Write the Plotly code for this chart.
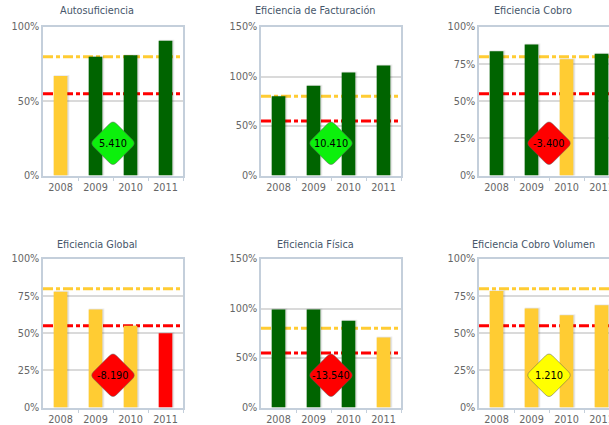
import plotly.graph_objects as go

years = ["2008", "2009", "2010", "2011"]
titles = ["Autosuficiencia", "Eficiencia de Facturación", "Eficiencia Cobro",
          "Eficiencia Global", "Eficiencia Física", "Eficiencia Cobro Volumen"]
autosuficiencia = [67, 80, 81, 90.7]
facturacion = [80, 90.7, 104, 111]
cobro = [83.7, 88.2, 78.3, 82]
global_ = [78, 66, 55, 50]
fisica = [99, 99, 87.6, 70.8]
cobro_volumen = [78.4, 66.7, 62.2, 68.8]
series = [autosuficiencia, facturacion, cobro, global_, fisica, cobro_volumen]
gauge_labels = ["5.410", "10.410", "-3.400", "-8.190", "-13.540", "1.210"]
gauge_colors = ["#0CF00C", "#0CF00C", "#FF0000", "#FF0000", "#FF0000", "#FFFF00"]
axis_max = [100, 150, 100, 100, 150, 100]
axis_ticks = [[0, 50, 100], [0, 50, 100, 150], [0, 25, 50, 75, 100],
              [0, 25, 50, 75, 100], [0, 50, 100, 150], [0, 25, 50, 75, 100]]
target_high = 80
target_low = 55

W, H = 609, 425
lefts = [43, 261, 479]
tops = [27, 259]
plot_w, plot_h = 140, 148.5
cat_w = plot_w / 4
title_centers = [97, 315, 533]
title_ys = [11, 244]

AXIS = "#C4CFDB"
GRID = "#DADADA"
LABEL = "#666666"
TITLE = "#46566A"
FONT = "DejaVu Sans"
DIAMOND = ("M -3.5,-19.5 Q 0,-23 3.5,-19.5 L 19.5,-3.5 Q 23,0 19.5,3.5 L 3.5,19.5 "
           "Q 0,23 -3.5,19.5 L -19.5,3.5 Q -23,0 -19.5,-3.5 Z")


def bar_color(v):
    if v >= target_high:
        return "#006400"
    if v >= target_low:
        return "#FFCC33"
    return "#FF0000"


fig = go.Figure()
shapes, annotations = [], []
for i, vals in enumerate(series):
    r, c = divmod(i, 3)
    suffix = "" if i == 0 else str(i + 1)
    xa, ya = "x" + suffix, "y" + suffix
    left, top = lefts[c], tops[r]
    right = min(left + plot_w, W)
    xmax = -0.5 + (right - left) / cat_w
    pos = list(range(len(years)))
    fig.add_trace(go.Bar(x=[p + 0.03 for p in pos], y=vals, xaxis=xa, yaxis=ya, width=0.39,
                         marker=dict(color="rgba(0,0,0,0.10)",
                                     line=dict(color="rgba(0,0,0,0.07)", width=2)),
                         showlegend=False, hoverinfo="skip"))
    fig.add_trace(go.Bar(x=pos, y=vals, xaxis=xa, yaxis=ya, width=0.39,
                         marker=dict(color=[bar_color(v) for v in vals], line=dict(width=0)),
                         showlegend=False))
    axis_common = dict(showline=True, linecolor=AXIS, linewidth=1.5, mirror=True, zeroline=False,
                       automargin=False, tickfont=dict(family=FONT, size=9.7, color=LABEL))
    fig.update_layout({
        ("xaxis" + suffix): dict(
            domain=[left / W, right / W], range=[-0.5, xmax], anchor=ya, showgrid=False,
            tickmode="array", tickvals=pos, ticktext=years, ticks="", ticklabelstandoff=2,
            ticklabeloverflow="allow",
            minor=dict(tickmode="array", tickvals=[p + 0.5 for p in pos], ticks="outside",
                       ticklen=4, tickcolor=AXIS, tickwidth=1, showgrid=False),
            **axis_common),
        ("yaxis" + suffix): dict(
            domain=[1 - (top + plot_h) / H, 1 - top / H], range=[0, axis_max[i]], anchor=xa,
            tickmode="array", tickvals=axis_ticks[i],
            ticktext=[f"{t}%" for t in axis_ticks[i]], ticks="",
            showgrid=True, gridcolor=GRID, gridwidth=1.5, **axis_common),
    })
    for level, col in ((target_high, "#FFCC33"), (target_low, "#FF0000")):
        shapes.append(dict(type="line", layer="below", xref=xa + " domain", yref=ya,
                           x0=0, x1=1, y0=level, y1=level,
                           line=dict(color=col, width=3, dash="10px,3px,4px,3px")))
    gauge_y = axis_max[i] * 0.217
    shapes.append(dict(type="path", layer="above", xref=xa, yref=ya, xsizemode="pixel",
                       ysizemode="pixel", xanchor=1.5, yanchor=gauge_y, path=DIAMOND,
                       fillcolor=gauge_colors[i], line=dict(color="rgba(90,90,90,0.5)", width=1)))
    annotations.append(dict(xref=xa, yref=ya, x=1.5, y=gauge_y, text=gauge_labels[i], showarrow=False,
                            font=dict(family=FONT, size=9.8, color="#000000")))
    annotations.append(dict(xref="paper", yref="paper", x=title_centers[c] / W,
                            y=1 - title_ys[r] / H, text=titles[i], showarrow=False,
                            xanchor="center", yanchor="middle",
                            font=dict(family=FONT, size=9.7, color=TITLE)))

fig.update_layout(width=W, height=H, margin=dict(l=0, r=0, t=0, b=0), barmode="overlay",
                  paper_bgcolor="white", plot_bgcolor="white", showlegend=False,
                  shapes=shapes, annotations=annotations)
fig.write_html("out.html", config={"displayModeBar": False},
               post_script="document.body.style.margin='0';document.body.style.overflow='hidden';")
